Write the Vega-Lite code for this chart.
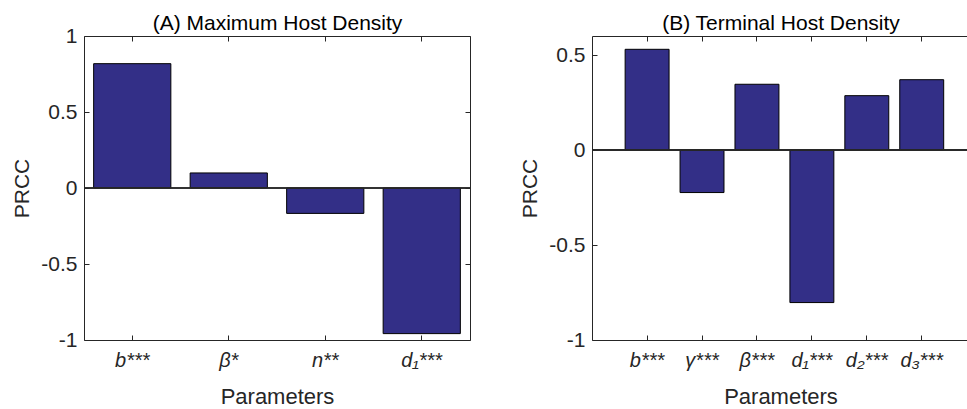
{
  "$schema": "https://vega.github.io/schema/vega-lite/v6.json",
  "padding": {"left": 11, "top": 12, "right": 0, "bottom": 0},
  "background": "white",
  "spacing": 48,
  "config": {
    "view": {"stroke": null},
    "font": "Liberation Sans",
    "axis": {
      "grid": false,
      "domainColor": "#262626",
      "tickColor": "#262626",
      "tickSize": -5,
      "labelColor": "#262626",
      "labelFont": "Liberation Sans",
      "titleFont": "Liberation Sans",
      "titleColor": "#262626",
      "titleFontWeight": "normal",
      "titleFontSize": 21
    }
  },
  "datasets": {
    "A": [
      {"param": "b***", "prcc": 0.818},
      {"param": "β*", "prcc": 0.099},
      {"param": "n**", "prcc": -0.167},
      {"param": "d₁***", "prcc": -0.958}
    ],
    "B": [
      {"param": "b***", "prcc": 0.530},
      {"param": "γ***", "prcc": -0.224},
      {"param": "β***", "prcc": 0.346},
      {"param": "d₁***", "prcc": -0.803},
      {"param": "d₂***", "prcc": 0.286},
      {"param": "d₃***", "prcc": 0.370}
    ]
  },
  "hconcat": [
    {
      "width": 386,
      "height": 304,
      "data": {"name": "A"},
      "layer": [
        {
          "mark": {"type": "bar", "fill": "#332f87", "stroke": "#000000", "strokeWidth": 1},
          "encoding": {
            "x": {"field": "param", "type": "nominal", "sort": null,
              "scale": {"paddingInner": 0.2, "paddingOuter": 0.1},
              "axis": {"orient": "bottom", "title": "Parameters", "titleFontSize": 22, "labelAngle": 0, "labelFontSize": 20, "labelFontStyle": "italic", "labelPadding": 15, "titlePadding": 16}},
            "y": {"field": "prcc", "type": "quantitative",
              "scale": {"domain": [-1, 1], "nice": false, "zero": false},
              "axis": {"orient": "left", "title": "PRCC", "values": [-1, -0.5, 0, 0.5, 1], "labelExpr": "'' + datum.value", "labelFontSize": 21, "labelPadding": 12, "titlePadding": 8}}
          }
        },
        {
          "mark": {"type": "bar", "opacity": 0},
          "encoding": {
            "x": {"field": "param", "type": "nominal", "sort": null,
              "axis": {"orient": "top", "title": "(A) Maximum Host Density", "titleColor": "#000000", "titlePadding": 2, "labels": false}},
            "y": {"field": "prcc", "type": "quantitative",
              "axis": {"orient": "right", "title": null, "labels": false, "values": [-1, -0.5, 0, 0.5, 1]}}
          }
        },
        {
          "mark": {"type": "rule", "color": "#262626", "strokeWidth": 1},
          "encoding": {"y": {"datum": 0, "type": "quantitative", "axis": null}}
        }
      ],
      "resolve": {"axis": {"x": "independent", "y": "independent"}}
    },
    {
      "width": 377,
      "height": 304,
      "data": {"name": "B"},
      "layer": [
        {
          "mark": {"type": "bar", "fill": "#332f87", "stroke": "#000000", "strokeWidth": 1},
          "encoding": {
            "x": {"field": "param", "type": "nominal", "sort": null,
              "scale": {"paddingInner": 0.2, "paddingOuter": 0.532, "align": 0.567},
              "axis": {"orient": "bottom", "title": "Parameters", "titleFontSize": 22, "labelAngle": 0, "labelFontSize": 20, "labelFontStyle": "italic", "labelPadding": 15, "titlePadding": 16}},
            "y": {"field": "prcc", "type": "quantitative",
              "scale": {"domain": [-1, 0.6], "nice": false, "zero": false},
              "axis": {"orient": "left", "title": "PRCC", "values": [-1, -0.5, 0, 0.5], "labelExpr": "'' + datum.value", "labelFontSize": 21, "labelPadding": 12, "titlePadding": 8}}
          }
        },
        {
          "mark": {"type": "bar", "opacity": 0},
          "encoding": {
            "x": {"field": "param", "type": "nominal", "sort": null,
              "axis": {"orient": "top", "title": "(B) Terminal Host Density", "titleColor": "#000000", "titlePadding": 2, "labels": false}},
            "y": {"field": "prcc", "type": "quantitative", "axis": null}
          }
        },
        {
          "mark": {"type": "rule", "color": "#262626", "strokeWidth": 1},
          "encoding": {"y": {"datum": 0, "type": "quantitative", "axis": null}}
        }
      ],
      "resolve": {"axis": {"x": "independent", "y": "independent"}}
    }
  ]
}
